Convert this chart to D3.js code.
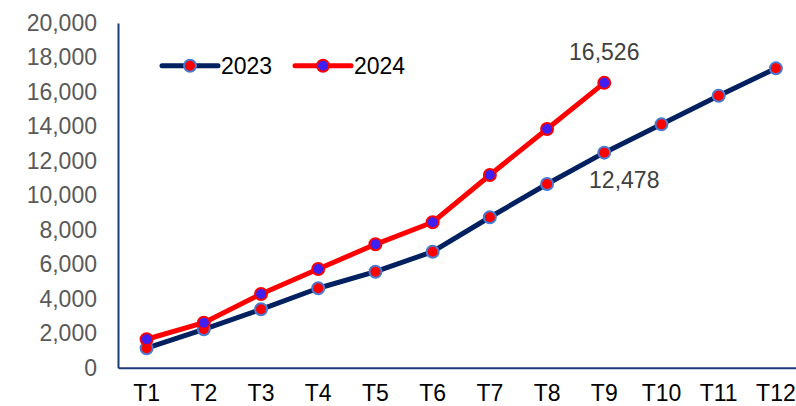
<!DOCTYPE html>
<html>
<head>
<meta charset="utf-8">
<script src="https://cdn.jsdelivr.net/npm/d3@7/dist/d3.min.js"></script>
<style>
  html, body { margin: 0; padding: 0; background: #fff; }
  svg { display: block; font-family: "Liberation Sans", Arial, sans-serif; }
</style>
</head>
<body>
<svg id="chart" width="796" height="406"></svg>
<script>
const categories = ["T1","T2","T3","T4","T5","T6","T7","T8","T9","T10","T11","T12"];
const values2023 = [1130, 2230, 3390, 4610, 5570, 6730, 8730, 10660, 12478, 14120, 15780, 17370];
const values2024 = [1650, 2610, 4280, 5730, 7160, 8440, 11180, 13850, 16526];
const yTicks = [0, 2000, 4000, 6000, 8000, 10000, 12000, 14000, 16000, 18000, 20000];
const seriesNames = ["2023", "2024"];

const svg = d3.select("#chart");
const plotLeft = 118, plotRight = 804.5, plotTop = 23, plotBottom = 367.7;

const x = d3.scaleBand().domain(categories).range([plotLeft, plotRight]);
const y = d3.scaleLinear().domain([0, 20000]).range([plotBottom, plotTop]);
const fmt = d3.format(",");
const axisColor = "#1F3A78";

// Y axis
const yAxis = svg.append("g").attr("transform", `translate(${plotLeft},0)`)
  .call(d3.axisLeft(y).tickValues(yTicks).tickFormat(fmt).tickSize(0).tickPadding(21));
yAxis.select(".domain").attr("stroke", axisColor).attr("stroke-width", 2);
yAxis.selectAll("text").attr("fill", "#595959").style("font-size", "23px")
  .attr("font-family", "Liberation Sans, Arial, sans-serif");

// X axis
const xAxis = svg.append("g").attr("transform", `translate(0,${plotBottom})`)
  .call(d3.axisBottom(x).tickSize(0).tickPadding(17));
xAxis.select(".domain").attr("stroke", axisColor).attr("stroke-width", 2);
xAxis.selectAll("text").attr("fill", "#000").style("font-size", "23px")
  .attr("font-family", "Liberation Sans, Arial, sans-serif");

const cx = c => x(c) + x.bandwidth() / 2;
const line = d3.line().x((d, i) => cx(categories[i])).y(d => y(d));

const styles = [
  { line: "#002060", fill: "#FF0000", stroke: "#4A7BD0" },
  { line: "#FF0000", fill: "#4020F0", stroke: "#FF0000" }
];

[values2023, values2024].forEach((vals, si) => {
  const st = styles[si];
  svg.append("path").datum(vals)
    .attr("d", line).attr("fill", "none")
    .attr("stroke", st.line).attr("stroke-width", 5)
    .attr("stroke-linejoin", "round").attr("stroke-linecap", "round");
  svg.selectAll(null).data(vals).enter().append("circle")
    .attr("cx", (d, i) => cx(categories[i])).attr("cy", d => y(d))
    .attr("r", 6).attr("fill", st.fill)
    .attr("stroke", st.stroke).attr("stroke-width", 2);
});

// Data labels
const i2023 = 8, i2024 = values2024.length - 1;
svg.append("text").attr("x", cx(categories[i2023]) + 20).attr("y", y(values2023[i2023]) + 35)
  .attr("text-anchor", "middle").attr("fill", "#404040").style("font-size", "23px")
  .text(fmt(values2023[i2023]));
svg.append("text").attr("x", cx(categories[i2024])).attr("y", y(values2024[i2024]) - 23)
  .attr("text-anchor", "middle").attr("fill", "#404040").style("font-size", "23px")
  .text(fmt(values2024[i2024]));

// Legend
const legendItems = [
  { name: seriesNames[0], x0: 162, st: styles[0] },
  { name: seriesNames[1], x0: 295, st: styles[1] }
];
const ly = 65.7;
legendItems.forEach(it => {
  const g = svg.append("g");
  g.append("line").attr("x1", it.x0).attr("x2", it.x0 + 56).attr("y1", ly).attr("y2", ly)
    .attr("stroke", it.st.line).attr("stroke-width", 5).attr("stroke-linecap", "round");
  g.append("circle").attr("cx", it.x0 + 28).attr("cy", ly).attr("r", 6)
    .attr("fill", it.st.fill).attr("stroke", it.st.stroke).attr("stroke-width", 2);
  g.append("text").attr("x", it.x0 + 59).attr("y", ly + 8).attr("fill", "#000")
    .style("font-size", "23px").text(it.name);
});
</script>
</body>
</html>
